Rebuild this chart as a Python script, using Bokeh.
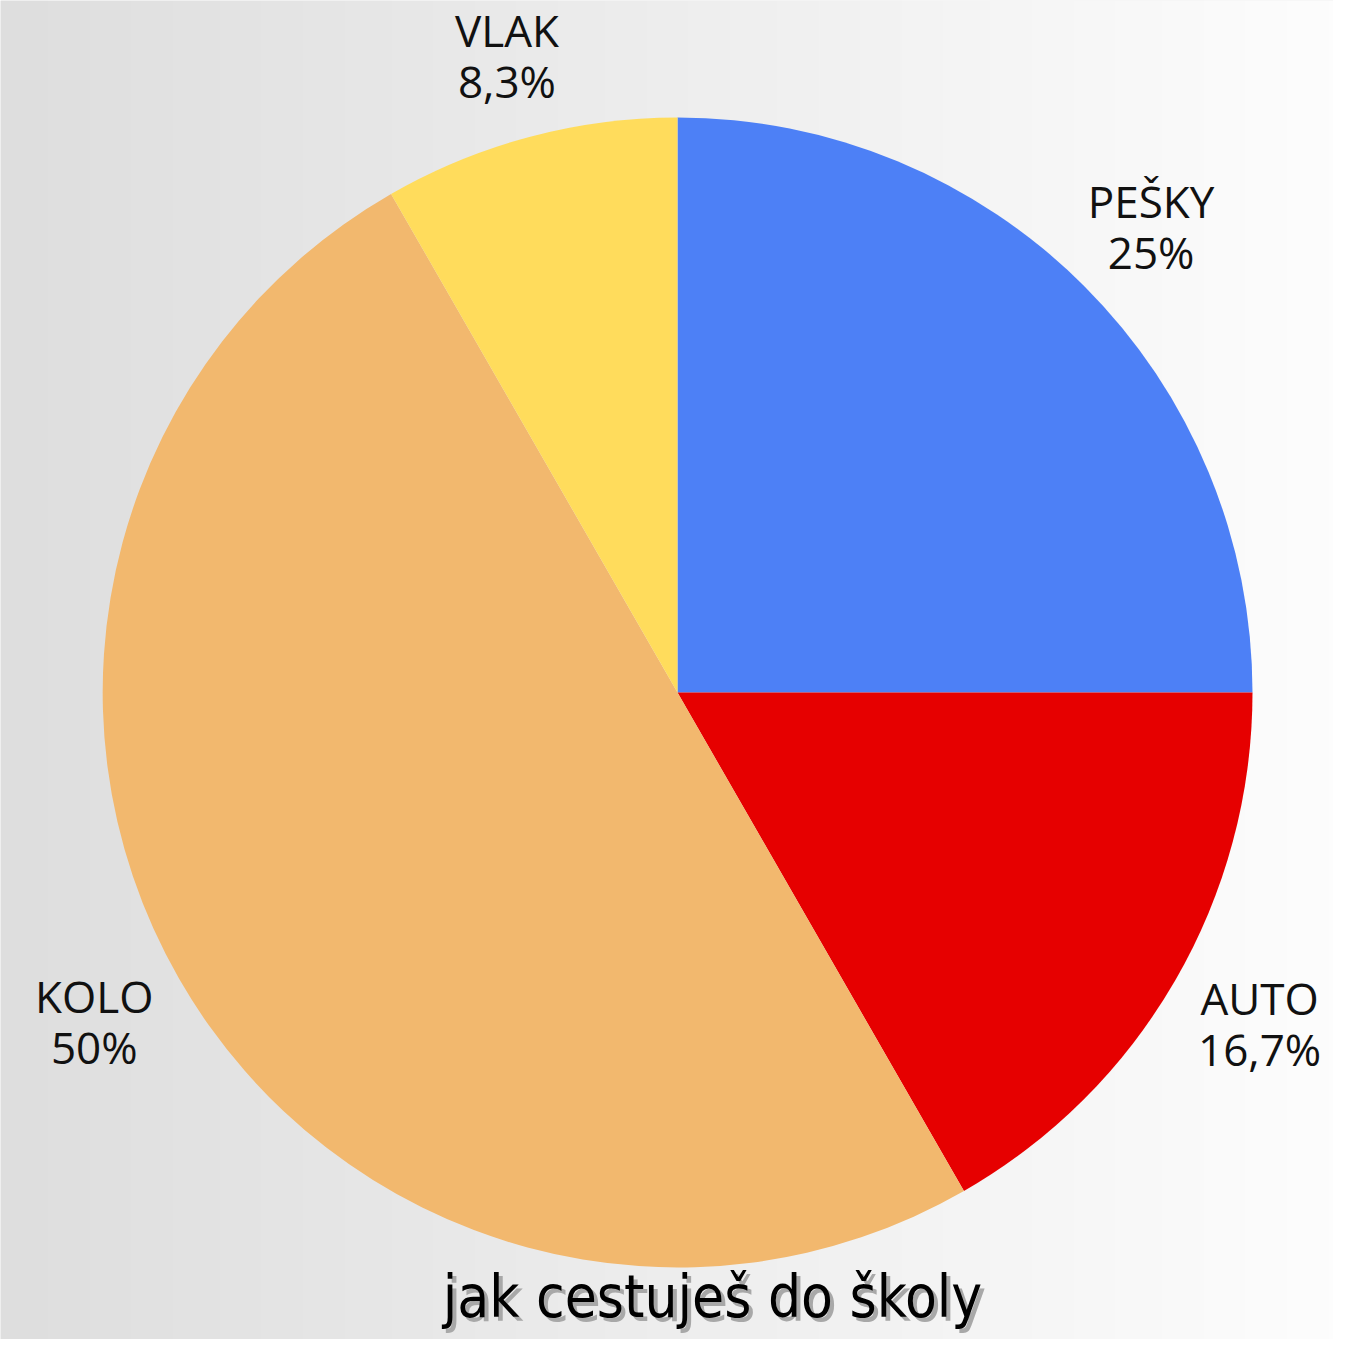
import numpy as np
from bokeh.plotting import figure
from bokeh.models import Range1d
from bokeh.core.properties import value
from bokeh.embed import file_html
from bokeh.resources import INLINE

# ---- data ----
categories = ["PEŠKY", "AUTO", "KOLO", "VLAK"]
shares = [25.0, 16.7, 50.0, 8.3]
share_labels = ["25%", "16,7%", "50%", "8,3%"]
colors = ["#4d80f6", "#e60000", "#f2b86e", "#ffdc5c"]
title_text = "jak cestuješ do školy"

W, H = 1333, 1339
p = figure(width=W, height=H, output_backend="svg", toolbar_location=None,
           x_range=Range1d(0, W), y_range=Range1d(0, H), min_border=0)
p.axis.visible = False
p.grid.visible = False
p.outline_line_color = None
p.border_fill_color = None
p.background_fill_color = "#eeeeee"

# background gradient (horizontal)
N = 256
t = np.linspace(0, 1, N)
g = (222 + (253 - 222) * t).astype(np.uint32)
img = np.zeros((1, N), dtype=np.uint32)
view = img.view(dtype=np.uint8).reshape((1, N, 4))
view[0, :, 0] = g
view[0, :, 1] = g
view[0, :, 2] = g
view[0, :, 3] = 255
p.image_rgba(image=[img], x=0, y=0, dw=W, dh=H)

# pie
cx, cy, R = 677, H - 692, 575
vals = np.array(shares)
frac = vals / vals.sum()
cum = np.concatenate([[0], np.cumsum(frac)])
start = np.pi / 2 - 2 * np.pi * cum[:-1]
end = np.pi / 2 - 2 * np.pi * cum[1:]
p.wedge(x=cx, y=cy, radius=R, start_angle=list(start), end_angle=list(end),
        direction="clock", fill_color=colors, line_color=None)

# labels
mid = (start + end) / 2
rx = 657 + 18 * np.abs(np.cos(mid))
ry = 660
lx = cx + rx * np.cos(mid)
ly = cy + ry * np.sin(mid)
p.text(x=list(lx), y=list(ly + 25), text=categories, text_font=value("Open Sans"),
       text_font_size="44px", text_align="center", text_baseline="middle",
       text_color="#111111")
p.text(x=list(lx), y=list(ly - 26), text=share_labels, text_font=value("Open Sans"),
       text_font_size="44px", text_align="center", text_baseline="middle",
       text_color="#111111")

# title with shadow
tx, ty = 712, H - 1296
p.text(x=[tx + 4], y=[ty - 4], text=[title_text], text_font=value("DejaVu Sans Condensed"),
       text_font_size="58px", text_align="center", text_baseline="alphabetic",
       text_color="#a8a8a8")
p.text(x=[tx], y=[ty], text=[title_text], text_font=value("DejaVu Sans Condensed"),
       text_font_size="58px", text_align="center", text_baseline="alphabetic",
       text_color="#000000")

open("out.html", "w").write(file_html(p, INLINE))
